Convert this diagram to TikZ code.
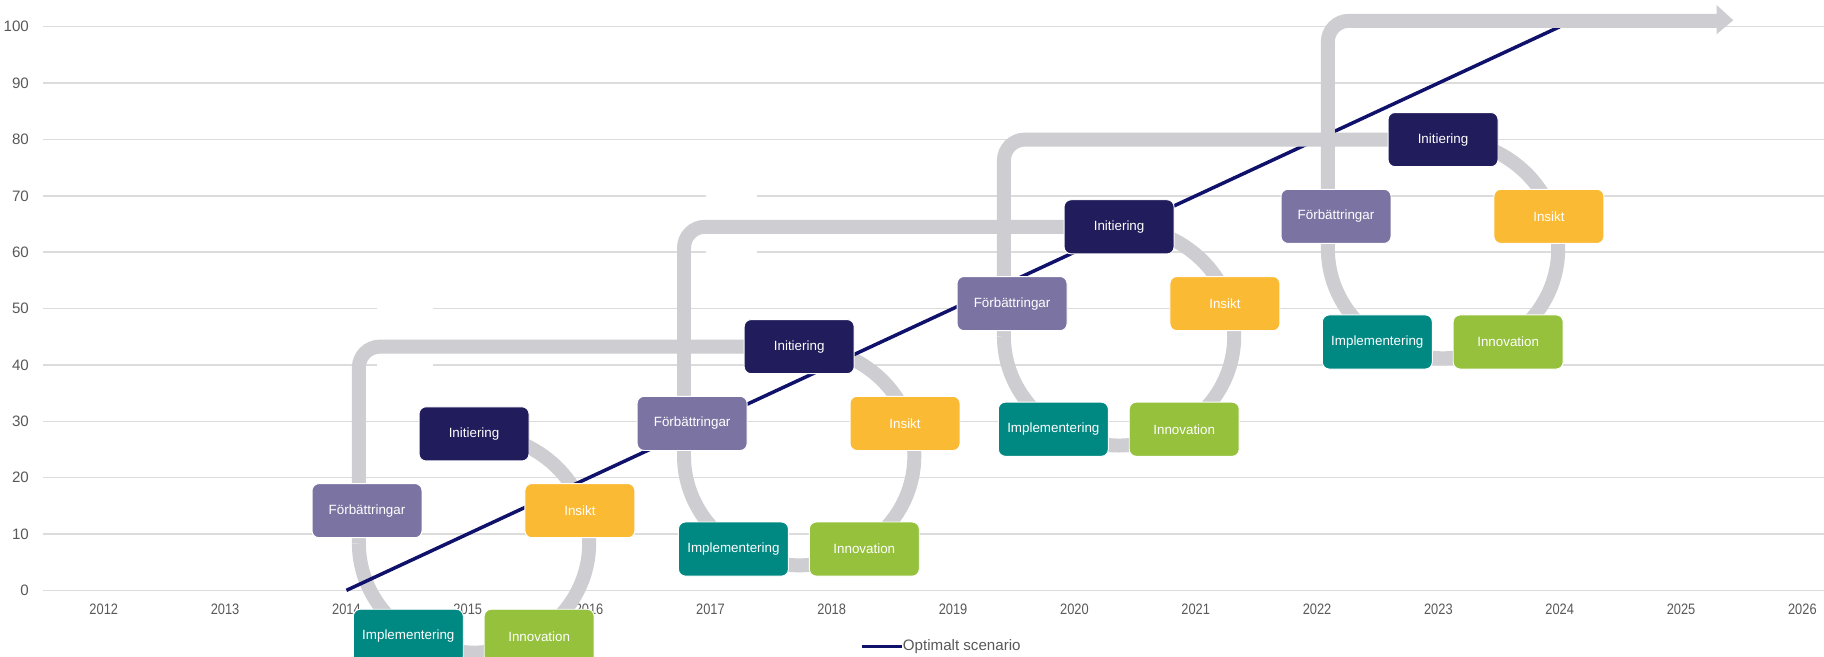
\documentclass[tikz,border=0pt]{standalone}
\usepackage{fontspec}
\setmainfont{Liberation Sans}
\newfontfamily\narrowfont[FakeStretch=0.85]{Liberation Sans}
\definecolor{initc}{HTML}{211C5B}
\definecolor{forc}{HTML}{7B74A3}
\definecolor{insc}{HTML}{FBBA34}
\definecolor{innc}{HTML}{95C13D}
\definecolor{impc}{HTML}{008882}
\definecolor{ringc}{HTML}{CDCDD2}
\definecolor{optc}{HTML}{10116B}
\definecolor{gridc}{HTML}{DCDCDC}
\definecolor{labc}{HTML}{595959}
\pgfdeclarelayer{bg}
\pgfsetlayers{bg,main}
\begin{document}
\begin{tikzpicture}[x=1pt,y=1pt,
  gridline/.style={draw=gridc, line width=1.2pt},
  ylab/.style={anchor=east, text=labc, font=\fontsize{13}{13}\selectfont, inner sep=0pt},
  xlab/.style={text=labc, font=\narrowfont\fontsize{13}{13}\selectfont, inner sep=0pt},
  ringpath/.style={draw=ringc, line width=12pt},
  optline/.style={draw=optc, line width=3pt},
  stepbox/.style={rounded corners=6pt, minimum width=94.5pt, minimum height=46.5pt,
    draw=white, line width=0.8pt, text=white, font=\fontsize{11.5}{11.5}\selectfont, inner sep=0pt}]
\useasboundingbox (0,0) rectangle (1568,564);
% boxes
\foreach \k/\ix/\iy in {1/407.5/191,2/687/266,3/962/369,4/1240.5/444}{
  \node[stepbox, fill=initc] (I\k) at (\ix,\iy) {Initiering};
  \node[stepbox, fill=insc] (S\k) at (\ix+91,\iy-66) {Insikt};
  \node[stepbox, fill=forc] (F\k) at (\ix-92,\iy-66) {Förbättringar};
  \node[stepbox, fill=impc] (M\k) at (\ix-56.5,\iy-174) {Implementering};
  \node[stepbox, fill=innc] (N\k) at (\ix+56,\iy-174) {Innovation};
}
\begin{pgfonlayer}{bg}
  \fill[white] (0,0) rectangle (1568,564);
  \foreach \v in {0,10,...,100}{
    \draw[gridline] (37.3,{56.5+4.845*\v}) -- (1568,{56.5+4.845*\v});
    \node[ylab] at (25,{56.5+4.845*\v}) {\v};
  }
  \foreach \yr [count=\i from 0] in {2012,...,2026}{
    \node[xlab] at ({89.2+104.3*\i},40) {\yr};
  }
  % white patches hiding grid lines
  \fill[white] (324,246) rectangle (372,302);
  \fill[white] (607,334) rectangle (651,405);
  % rings
  \foreach \k in {1,...,4}{
    \draw[ringpath] (I\k.center) arc[start angle=90,end angle=-180,x radius=99,y radius=94] coordinate (L\k);
  }
  % optimal line
  \coordinate (o1) at (297.8,56.5);
  \coordinate (o2) at (1340.8,541);
  \draw[optline] (o1) -- (o2);
  % connectors
  \draw[ringpath, rounded corners=18pt] (L1) |- (I2.center);
  \draw[ringpath, rounded corners=18pt] (L2) |- (I3.center);
  \draw[ringpath, rounded corners=18pt] (L3) |- (I4.center);
  \coordinate (shaft) at (1477,546.1);
  \coordinate (tip) at (1490,546.6);
  \draw[ringpath, rounded corners=18pt] (L4) |- (shaft);
  \fill[ringc] (1475.7,559.6) -- (tip) -- (1475.7,534.6) -- cycle;
\end{pgfonlayer}
% legend
\coordinate (lg1) at (740.7,8.5);
\coordinate (lg2) at (775,8.5);
\draw[optline, line width=2.3pt] (lg1) -- (lg2);
\node[anchor=west, text=labc, font=\fontsize{13}{13}\selectfont, inner sep=0pt] (lgt) at (776,8.5) {Optimalt scenario};
\end{tikzpicture}
\end{document}
